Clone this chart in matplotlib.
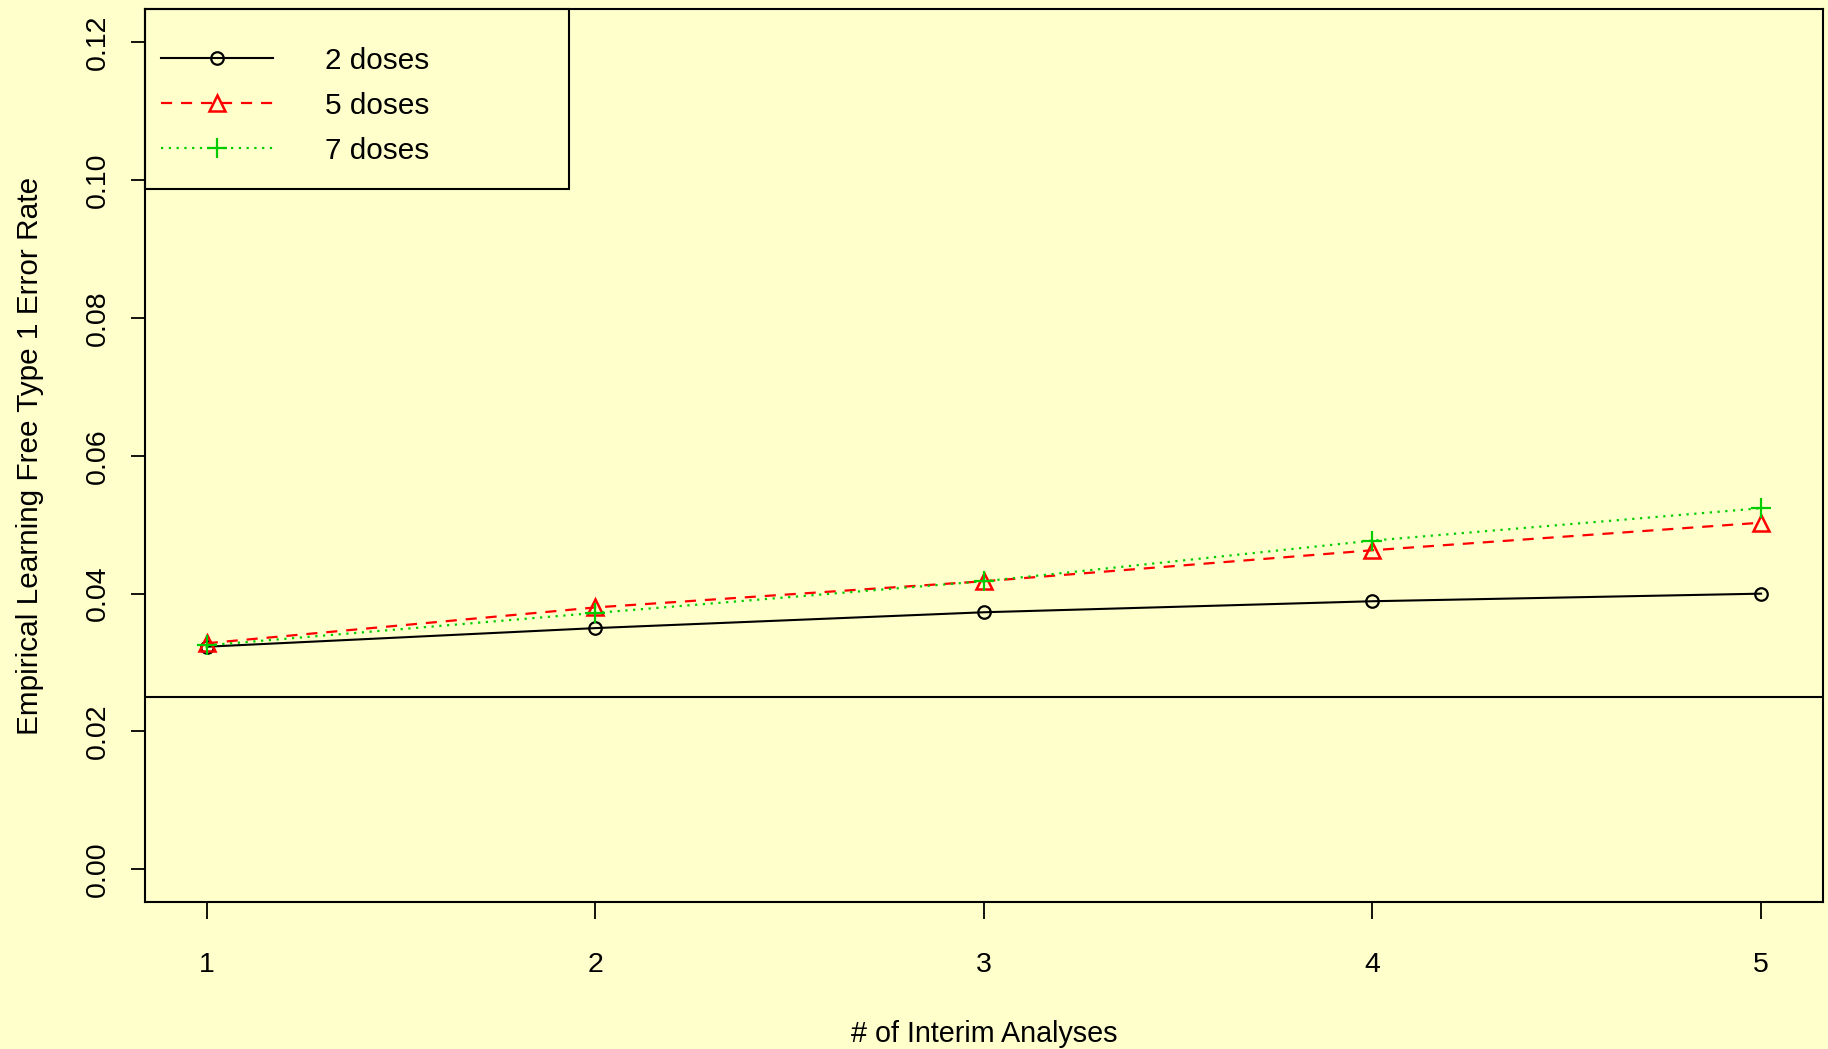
import matplotlib
matplotlib.use("Agg")
import matplotlib.pyplot as plt
from matplotlib.patches import Rectangle

# ── Data ──────────────────────────────────────────────────────────────────────
n_interim = [1, 2, 3, 4, 5]
err_2_doses = [0.0323, 0.0350, 0.0373, 0.0389, 0.0400]
err_5_doses = [0.0328, 0.0380, 0.0418, 0.0463, 0.0503]
err_7_doses = [0.0325, 0.0372, 0.0418, 0.0477, 0.0524]
nominal_rate = 0.025
y_ticks = [0.00, 0.02, 0.04, 0.06, 0.08, 0.10, 0.12]

BG = "#FFFFCC"
plt.rcParams["font.family"] = ["Liberation Sans", "DejaVu Sans"]

fig = plt.figure(figsize=(18.28, 10.49), dpi=100, facecolor=BG)
ax = fig.add_axes([0.0791, 0.1398, 0.9183, 0.8513])
ax.set_facecolor(BG)

ax.plot(n_interim, err_2_doses, color="black", lw=1.5, marker="o",
        markersize=9, markerfacecolor="none", markeredgewidth=1.6,
        label="2 doses")
ax.plot(n_interim, err_5_doses, color="#FF0000", lw=1.6, linestyle=(0, (5, 4)),
        marker="^", markersize=12, markerfacecolor="none", markeredgewidth=1.8,
        label="5 doses")
ax.plot(n_interim, err_7_doses, color="#00CD00", lw=1.6, linestyle=(0, (1, 2.5)),
        marker="+", markersize=14, markeredgewidth=1.6, label="7 doses")
ax.axhline(nominal_rate, color="black", lw=1.5)

# R-style axis ranges (4% padding)
ax.set_xlim(0.84, 5.16)
ax.set_ylim(-0.0048, 0.1248)
ax.set_xticks(n_interim)
ax.set_xticklabels([str(v) for v in n_interim])
ax.set_yticks(y_ticks)
ax.set_yticklabels([f"{v:.2f}" for v in y_ticks], rotation=90, va="center")

ax.tick_params(axis="x", length=12, width=1.3, pad=24, labelsize=20.5)
ax.tick_params(axis="y", length=10, width=1.3, pad=14, labelsize=20.5)
for sp in ax.spines.values():
    sp.set_linewidth(1.5)
    sp.set_color("black")

ax.set_xlabel("# of Interim Analyses", fontsize=20.7, labelpad=30)
ax.set_ylabel("Empirical Learning Free Type 1 Error Rate", fontsize=21.4, labelpad=30)

# Legend, R-style box
leg = ax.legend(loc="upper left", bbox_to_anchor=(0.0098, 0.958),
                frameon=False, fontsize=21.4, borderpad=0, borderaxespad=0,
                handlelength=3.75, handletextpad=1.75, labelspacing=0.57)
ax.add_patch(Rectangle((0, 0.7988), 0.2528, 0.2012, transform=ax.transAxes,
                       facecolor="none", edgecolor="black", lw=1.5, zorder=5,
                       clip_on=False))

fig.savefig("out.png", dpi=100, facecolor=BG)
